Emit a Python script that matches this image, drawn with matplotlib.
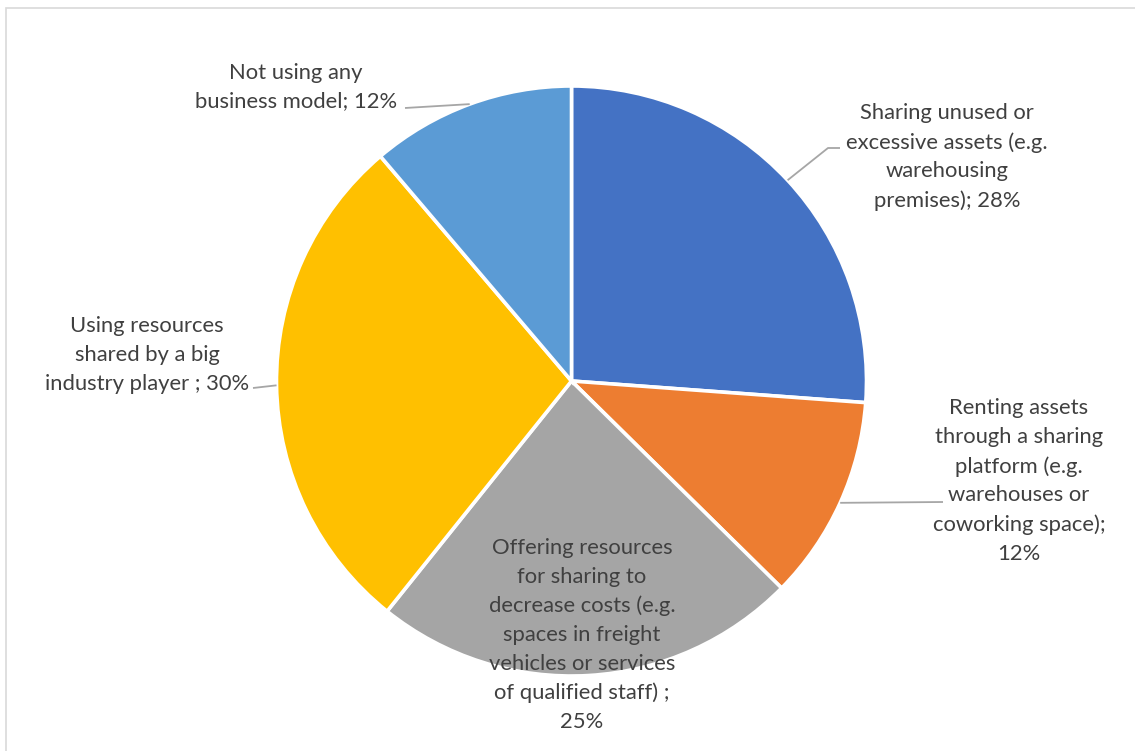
import numpy as np
import matplotlib
matplotlib.use("Agg")
import matplotlib.pyplot as plt
from matplotlib.patches import Rectangle

categories = [
    "Sharing unused or\nexcessive assets (e.g.\nwarehousing\npremises)",
    "Renting assets\nthrough a sharing\nplatform (e.g.\nwarehouses or\ncoworking space)",
    "Offering resources\nfor sharing to\ndecrease costs (e.g.\nspaces in freight\nvehicles or services\nof qualified staff)",
    "Using resources\nshared by a big\nindustry player",
    "Not using any\nbusiness model",
]
separators = ["; ", ";\n", " ;\n", " ; ", "; "]
values = [28, 12, 25, 30, 12]
colors = ["#4472C4", "#ED7D31", "#A5A5A5", "#FFC000", "#5B9BD5"]

W, H = 1135, 751
fig = plt.figure(figsize=(W / 100, H / 100), dpi=100)
ax = fig.add_axes([0, 0, 1, 1])

def Y(py):
    return H - py

cx, cy, R = 571.5, Y(381), 295
wedges, _ = ax.pie(values, colors=colors, startangle=90, counterclock=False,
                   center=(cx, cy), radius=R, frame=True,
                   wedgeprops=dict(edgecolor="white", linewidth=2.6))
ax.set_xlim(0, W)
ax.set_ylim(0, H)
ax.set_aspect("equal")
ax.axis("off")

# chart border (right and bottom edges fall outside the image)
fig.patches.append(Rectangle((6 / W, -0.5), 2, (Y(8) / H) + 0.5, transform=fig.transFigure,
                             fill=False, edgecolor="#D9D9D9", linewidth=1.2))

# label layout (centers in pixel coords) and leader line targets
label_pos = [(947, 157), (1019, 481), (582, 635), (147, 355), (296, 87)]
leader_end = [[(828, 148), (840, 148)], [(943, 502)], None, [(253, 388)], [(405, 108)]]

font = dict(family=["Lato", "DejaVu Sans"], fontsize=15.8, color="#404040")
for i, (cat, sep, v) in enumerate(zip(categories, separators, values)):
    txt = f"{cat}{sep}{v}%"
    x, y = label_pos[i]
    ax.text(x, Y(y), txt, ha="center", va="center", linespacing=1.54, **font)
    if leader_end[i] is not None:
        w = wedges[i]
        mid = np.deg2rad((w.theta1 + w.theta2) / 2)
        sx, sy = cx + R * np.cos(mid), cy + R * np.sin(mid)
        pts = [(sx, sy)] + [(px, Y(py)) for px, py in leader_end[i]]
        ax.plot([p[0] for p in pts], [p[1] for p in pts], color="#A6A6A6", lw=1.3,
                solid_capstyle="butt")

fig.savefig("out.png", dpi=100, facecolor="white")
